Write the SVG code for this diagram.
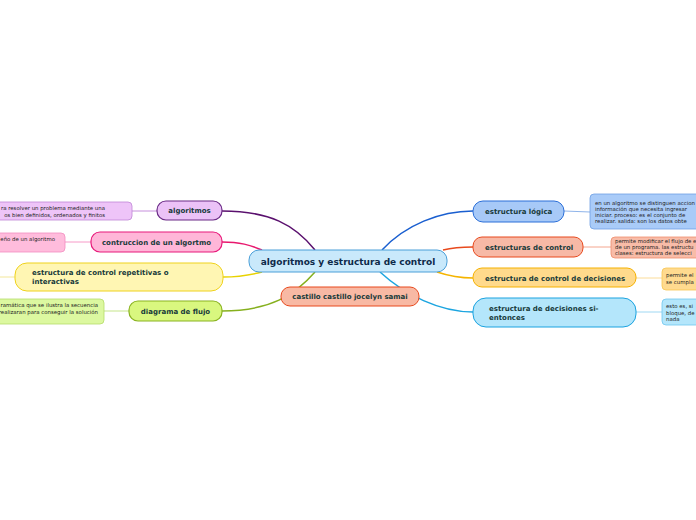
<svg xmlns="http://www.w3.org/2000/svg" width="696" height="520" viewBox="0 0 696 520">
<style>
.t{font-family:"DejaVu Sans",Verdana,sans-serif;font-weight:bold;font-size:7px;fill:#173a3a}
.c{font-family:"DejaVu Sans",Verdana,sans-serif;font-weight:bold;font-size:9px;fill:#0e2a4a}
.d{font-family:"DejaVu Sans",Verdana,sans-serif;font-size:5.4px;fill:#222222}
.con path{fill:none;stroke-width:1.5}
.dl path{fill:none;stroke-width:1}
</style>
<rect width="696" height="520" fill="#ffffff"/>
<g id="connectors">
<g class="con">
<path d="M222,211 C270,211 295,225 315,250" stroke="#5a106e"/>
<path d="M222,242 C240,242 250,245 262,250" stroke="#e8186e"/>
<path d="M223,277 C240,277 250,275 262,272" stroke="#e8d200"/>
<path d="M222,311 C270,311 295,295 315,272" stroke="#86b01e"/>
<path d="M382,250 C405,225 440,211 473,211" stroke="#1a5fd0"/>
<path d="M443,250 C455,247 462,247 473,247" stroke="#e84a1d"/>
<path d="M437,272 C452,277 462,278 473,278" stroke="#f5b400"/>
<path d="M380,272 C405,295 440,312 473,312" stroke="#1ca5e0"/>
</g>
<g class="dl">
<path d="M132,211 L157,211" stroke="#c68fdc"/>
<path d="M65,242 L91,242" stroke="#f79ac8"/>
<path d="M0,277 L15,277" stroke="#f3e79a"/>
<path d="M104,311 L129,311" stroke="#c5e58a"/>
<path d="M564,211 L590,212" stroke="#8fb4ea"/>
<path d="M583,247 L611,247" stroke="#f4a68f"/>
<path d="M636,278 L662,278" stroke="#fbdc99"/>
<path d="M636,312 L662,312" stroke="#9fd8f3"/>
</g>
</g>
<g id="central">
<rect x="249" y="250" width="198" height="22" rx="10" fill="#c9e9fb" stroke="#4a9fd8" stroke-width="1"/>
<text class="c" x="348" y="264.5" text-anchor="middle">algoritmos y estructura de control</text>
</g>
<g id="castillo">
<rect x="281" y="287" width="138" height="19" rx="9" fill="#f8b9a4" stroke="#e8491d" stroke-width="1"/>
<text class="t" x="350" y="299" text-anchor="middle">castillo castillo jocelyn samai</text>
</g>
<g id="algoritmos">
<rect x="157" y="201" width="65" height="19" rx="9" fill="#ebc2f7" stroke="#6a2a86" stroke-width="1.2"/>
<text class="t" x="189.5" y="213" text-anchor="middle">algoritmos</text>
</g>
<g id="algoritmos-detalle">
<rect x="-60" y="202" width="192" height="18" rx="4" fill="#eec4f8" stroke="#bf86d6" stroke-width="0.8"/>
<text class="d" x="105" y="209.5" text-anchor="end">ra resolver un problema mediante una</text>
<text class="d" x="105" y="216.5" text-anchor="end">os bien definidos, ordenados y finitos</text>
</g>
<g id="contruccion">
<rect x="91" y="232" width="131" height="20" rx="9" fill="#ffb6d8" stroke="#e8197a" stroke-width="1.2"/>
<text class="t" x="156.5" y="244.5" text-anchor="middle">contruccion de un algortmo</text>
</g>
<g id="contruccion-detalle">
<rect x="-60" y="233" width="125" height="19" rx="4" fill="#ffbcdc" stroke="#f28ec0" stroke-width="0.8"/>
<text class="d" x="55" y="241" text-anchor="end">eño de un algoritmo</text>
</g>
<g id="repetitivas">
<rect x="15" y="263" width="208" height="28" rx="12" fill="#fff6b3" stroke="#efd21c" stroke-width="1"/>
<text class="t" x="32" y="275">estructura de control repetitivas o</text>
<text class="t" x="32" y="284">interactivas</text>
</g>
<g id="diagrama">
<rect x="129" y="301" width="93" height="20" rx="9" fill="#d9f77f" stroke="#8ab320" stroke-width="1.2"/>
<text class="t" x="175.5" y="313.5" text-anchor="middle">diagrama de flujo</text>
</g>
<g id="diagrama-detalle">
<rect x="-60" y="299" width="164" height="25" rx="4" fill="#dcf8a0" stroke="#b5dc6a" stroke-width="0.8"/>
<text class="d" x="98" y="307" text-anchor="end">ramática que se ilustra la secuencia</text>
<text class="d" x="98" y="314" text-anchor="end">realizaran para conseguir la solución</text>
</g>
<g id="logica">
<rect x="473" y="201" width="91" height="21" rx="10" fill="#a7c9f7" stroke="#2a6ed8" stroke-width="1"/>
<text class="t" x="485" y="214">estructura lógica</text>
</g>
<g id="logica-detalle">
<rect x="590" y="194" width="140" height="35" rx="4" fill="#a9cbf8" stroke="#6f9fe3" stroke-width="0.8"/>
<text class="d" x="595" y="204.5">en un algoritmo se distinguen accion</text>
<text class="d" x="595" y="210.8">información que necesita ingresar</text>
<text class="d" x="595" y="217.1">iniciar. proceso: es el conjunto de</text>
<text class="d" x="595" y="223.4">realizar. salida: son los datos obte</text>
</g>
<g id="control">
<rect x="473" y="237" width="110" height="20" rx="9" fill="#f7b9a6" stroke="#e8491d" stroke-width="1"/>
<text class="t" x="485" y="249.5">estructuras de control</text>
</g>
<g id="control-detalle">
<rect x="611" y="237" width="120" height="21" rx="4" fill="#f8bca8" stroke="#ef8d6c" stroke-width="0.8"/>
<text class="d" x="615" y="242.5">permite modificar el flujo de e</text>
<text class="d" x="615" y="248.5">de un programa. las estructu</text>
<text class="d" x="615" y="254.5">clases: estructura de  selecci</text>
</g>
<g id="decisiones">
<rect x="473" y="268" width="163" height="19" rx="9" fill="#ffda8c" stroke="#f5b100" stroke-width="1"/>
<text class="t" x="485" y="280.5">estructura de control de decisiones</text>
</g>
<g id="decisiones-detalle">
<rect x="662" y="268" width="60" height="22" rx="4" fill="#ffda8f" stroke="#f8c550" stroke-width="0.8"/>
<text class="d" x="666" y="276.5">permite el</text>
<text class="d" x="666" y="283.5">se cumpla</text>
</g>
<g id="sientonces">
<rect x="473" y="298" width="163" height="29" rx="13" fill="#b4e6fb" stroke="#1aa3e0" stroke-width="1"/>
<text class="t" x="489" y="311">estructura de decisiones si-</text>
<text class="t" x="489" y="320">entonces</text>
</g>
<g id="sientonces-detalle">
<rect x="662" y="299" width="60" height="26" rx="4" fill="#b4e6fb" stroke="#6ec6ef" stroke-width="0.8"/>
<text class="d" x="666" y="308">esto es, si</text>
<text class="d" x="666" y="314.5">bloque, de</text>
<text class="d" x="666" y="321">nada</text>
</g>
</svg>
